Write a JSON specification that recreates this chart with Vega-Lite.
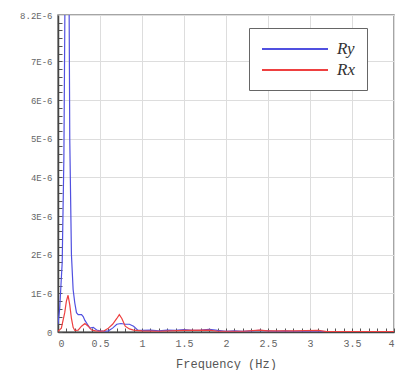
{
  "$schema": "https://vega.github.io/schema/vega-lite/v6.json",
  "width": 336,
  "height": 317,
  "autosize": {"type": "none"},
  "padding": {"left": 58, "top": 15, "right": 4, "bottom": 38},
  "background": "white",
  "config": {
    "view": {"stroke": "#888", "strokeWidth": 1.5},
    "font": "Liberation Mono"
  },
  "data": {"values": [
    {"f": 0, "v": 2e-7, "s": "Ry"},
    {"f": 0.02, "v": 6e-7, "s": "Ry"},
    {"f": 0.05, "v": 1.8e-6, "s": "Ry"},
    {"f": 0.07, "v": 4.5e-6, "s": "Ry"},
    {"f": 0.1, "v": 1.4e-5, "s": "Ry"},
    {"f": 0.12, "v": 1.4e-5, "s": "Ry"},
    {"f": 0.14, "v": 5e-6, "s": "Ry"},
    {"f": 0.16, "v": 2e-6, "s": "Ry"},
    {"f": 0.18, "v": 1.1e-6, "s": "Ry"},
    {"f": 0.2, "v": 7.5e-7, "s": "Ry"},
    {"f": 0.22, "v": 5e-7, "s": "Ry"},
    {"f": 0.24, "v": 4.5e-7, "s": "Ry"},
    {"f": 0.28, "v": 4.5e-7, "s": "Ry"},
    {"f": 0.3, "v": 4e-7, "s": "Ry"},
    {"f": 0.32, "v": 3e-7, "s": "Ry"},
    {"f": 0.35, "v": 2e-7, "s": "Ry"},
    {"f": 0.38, "v": 1e-7, "s": "Ry"},
    {"f": 0.42, "v": 1.2e-7, "s": "Ry"},
    {"f": 0.46, "v": 5e-8, "s": "Ry"},
    {"f": 0.5, "v": 3e-8, "s": "Ry"},
    {"f": 0.55, "v": 2e-8, "s": "Ry"},
    {"f": 0.6, "v": 3e-8, "s": "Ry"},
    {"f": 0.65, "v": 1e-7, "s": "Ry"},
    {"f": 0.7, "v": 2e-7, "s": "Ry"},
    {"f": 0.75, "v": 2.2e-7, "s": "Ry"},
    {"f": 0.8, "v": 2e-7, "s": "Ry"},
    {"f": 0.85, "v": 2e-7, "s": "Ry"},
    {"f": 0.9, "v": 1.5e-7, "s": "Ry"},
    {"f": 0.95, "v": 5e-8, "s": "Ry"},
    {"f": 1.0, "v": 4e-8, "s": "Ry"},
    {"f": 1.1, "v": 5e-8, "s": "Ry"},
    {"f": 1.2, "v": 3e-8, "s": "Ry"},
    {"f": 1.3, "v": 5e-8, "s": "Ry"},
    {"f": 1.4, "v": 4e-8, "s": "Ry"},
    {"f": 1.5, "v": 6e-8, "s": "Ry"},
    {"f": 1.6, "v": 4e-8, "s": "Ry"},
    {"f": 1.7, "v": 5e-8, "s": "Ry"},
    {"f": 1.8, "v": 7e-8, "s": "Ry"},
    {"f": 1.9, "v": 4e-8, "s": "Ry"},
    {"f": 2.0, "v": 2e-8, "s": "Ry"},
    {"f": 2.1, "v": 3e-8, "s": "Ry"},
    {"f": 2.2, "v": 2e-8, "s": "Ry"},
    {"f": 2.3, "v": 3e-8, "s": "Ry"},
    {"f": 2.4, "v": 4e-8, "s": "Ry"},
    {"f": 2.5, "v": 3e-8, "s": "Ry"},
    {"f": 2.6, "v": 2e-8, "s": "Ry"},
    {"f": 2.7, "v": 3e-8, "s": "Ry"},
    {"f": 2.8, "v": 2e-8, "s": "Ry"},
    {"f": 2.9, "v": 2e-8, "s": "Ry"},
    {"f": 3.0, "v": 3e-8, "s": "Ry"},
    {"f": 3.1, "v": 2e-8, "s": "Ry"},
    {"f": 3.2, "v": 1e-8, "s": "Ry"},
    {"f": 3.4, "v": 1e-8, "s": "Ry"},
    {"f": 3.6, "v": 1e-8, "s": "Ry"},
    {"f": 3.8, "v": 1e-8, "s": "Ry"},
    {"f": 4.0, "v": 1e-8, "s": "Ry"},
    {"f": 0, "v": 2e-8, "s": "Rx"},
    {"f": 0.04, "v": 1e-7, "s": "Rx"},
    {"f": 0.08, "v": 5e-7, "s": "Rx"},
    {"f": 0.1, "v": 8e-7, "s": "Rx"},
    {"f": 0.12, "v": 9.5e-7, "s": "Rx"},
    {"f": 0.14, "v": 7e-7, "s": "Rx"},
    {"f": 0.16, "v": 3.5e-7, "s": "Rx"},
    {"f": 0.18, "v": 1.2e-7, "s": "Rx"},
    {"f": 0.2, "v": 4e-8, "s": "Rx"},
    {"f": 0.24, "v": 5e-8, "s": "Rx"},
    {"f": 0.28, "v": 1.5e-7, "s": "Rx"},
    {"f": 0.32, "v": 2.2e-7, "s": "Rx"},
    {"f": 0.36, "v": 1.5e-7, "s": "Rx"},
    {"f": 0.4, "v": 5e-8, "s": "Rx"},
    {"f": 0.45, "v": 3e-8, "s": "Rx"},
    {"f": 0.5, "v": 2e-8, "s": "Rx"},
    {"f": 0.55, "v": 3e-8, "s": "Rx"},
    {"f": 0.6, "v": 1e-7, "s": "Rx"},
    {"f": 0.65, "v": 2e-7, "s": "Rx"},
    {"f": 0.7, "v": 3.5e-7, "s": "Rx"},
    {"f": 0.73, "v": 4.5e-7, "s": "Rx"},
    {"f": 0.76, "v": 3.5e-7, "s": "Rx"},
    {"f": 0.8, "v": 1.5e-7, "s": "Rx"},
    {"f": 0.85, "v": 8e-8, "s": "Rx"},
    {"f": 0.9, "v": 5e-8, "s": "Rx"},
    {"f": 1.0, "v": 3e-8, "s": "Rx"},
    {"f": 1.2, "v": 2e-8, "s": "Rx"},
    {"f": 1.5, "v": 4e-8, "s": "Rx"},
    {"f": 1.8, "v": 5e-8, "s": "Rx"},
    {"f": 1.9, "v": 2e-8, "s": "Rx"},
    {"f": 2.2, "v": 2e-8, "s": "Rx"},
    {"f": 2.4, "v": 5e-8, "s": "Rx"},
    {"f": 2.5, "v": 3e-8, "s": "Rx"},
    {"f": 2.8, "v": 3e-8, "s": "Rx"},
    {"f": 3.1, "v": 4e-8, "s": "Rx"},
    {"f": 3.2, "v": 1e-8, "s": "Rx"},
    {"f": 3.5, "v": 1e-8, "s": "Rx"},
    {"f": 4.0, "v": 1e-8, "s": "Rx"}
  ]},
  "layer": [
    {
      "mark": {"type": "line", "opacity": 0},
      "encoding": {
        "x": {"field": "f", "type": "quantitative", "scale": {"domain": [0, 4], "nice": false},
          "axis": {"orient": "bottom", "title": null, "labels": false, "grid": false, "domain": false,
            "tickSize": -4, "tickColor": "#555", "tickWidth": 1,
            "values": [0,0.1,0.2,0.3,0.4,0.5,0.6,0.7,0.8,0.9,1,1.1,1.2,1.3,1.4,1.5,1.6,1.7,1.8,1.9,2,2.1,2.2,2.3,2.4,2.5,2.6,2.7,2.8,2.9,3,3.1,3.2,3.3,3.4,3.5,3.6,3.7,3.8,3.9,4]}},
        "y": {"field": "v", "type": "quantitative", "scale": {"domain": [0, 8.2e-6], "nice": false, "zero": true},
          "axis": {"orient": "left", "title": null, "labels": false, "grid": false, "domain": false,
            "tickSize": -4, "tickColor": "#555", "tickWidth": 1,
            "values": [0,2e-7,4e-7,6e-7,8e-7,1e-6,1.2e-6,1.4e-6,1.6e-6,1.8e-6,2e-6,2.2e-6,2.4e-6,2.6e-6,2.8e-6,3e-6,3.2e-6,3.4e-6,3.6e-6,3.8e-6,4e-6,4.2e-6,4.4e-6,4.6e-6,4.8e-6,5e-6,5.2e-6,5.4e-6,5.6e-6,5.8e-6,6e-6,6.2e-6,6.4e-6,6.6e-6,6.8e-6,7e-6,7.2e-6,7.4e-6,7.6e-6,7.8e-6,8e-6]}}
      }
    },
    {
      "mark": {"type": "line", "clip": true, "strokeWidth": 1.2},
      "encoding": {
        "x": {"field": "f", "type": "quantitative", "scale": {"domain": [0, 4], "nice": false},
          "axis": {"orient": "bottom", "title": "Frequency (Hz)", "values": [0,0.5,1,1.5,2,2.5,3,3.5,4], "format": "~g",
            "grid": true, "gridColor": "#ddd", "gridWidth": 1, "domainColor": "#444", "domainWidth": 1.5,
            "tickSize": 0, "labelPadding": 6, "labelFont": "Liberation Mono", "labelFontSize": 10, "labelColor": "#666",
            "titleFont": "Liberation Mono", "titleFontSize": 12, "titleFontWeight": "normal", "titleColor": "#555", "titlePadding": 10}},
        "y": {"field": "v", "type": "quantitative", "scale": {"domain": [0, 8.2e-6], "nice": false, "zero": true},
          "axis": {"orient": "left", "title": null, "values": [0,1e-6,2e-6,3e-6,4e-6,5e-6,6e-6,7e-6,8.2e-6],
            "labelExpr": "datum.value == 0 ? '0' : (datum.value > 8.1e-6 ? '8.2E-6' : format(round(datum.value*1e6), 'd') + 'E-6')",
            "grid": true, "gridColor": "#ddd", "gridWidth": 1, "domainColor": "#444", "domainWidth": 1.5,
            "tickSize": 0, "labelPadding": 6, "labelFont": "Liberation Mono", "labelFontSize": 9, "labelColor": "#666"}},
        "color": {"field": "s", "type": "nominal",
          "scale": {"domain": ["Ry", "Rx"], "range": ["#5050e0", "#ee4040"]},
          "legend": {"title": null, "orient": "none", "legendX": 191, "legendY": 13, "direction": "vertical",
            "fillColor": "white", "strokeColor": "#666", "padding": 12, "rowPadding": 4,
            "symbolType": "M-1,0H7.25", "symbolSize": 256, "symbolStrokeWidth": 2, "symbolOffset": 0,
            "labelOffset": 58, "labelFont": "Liberation Serif", "labelFontStyle": "italic", "labelFontSize": 17,
            "labelColor": "#333", "labelExpr": "datum.label + '\u00a0\u00a0\u00a0'"}}
      }
    }
  ],
  "resolve": {"scale": {"x": "independent", "y": "independent"}}
}
